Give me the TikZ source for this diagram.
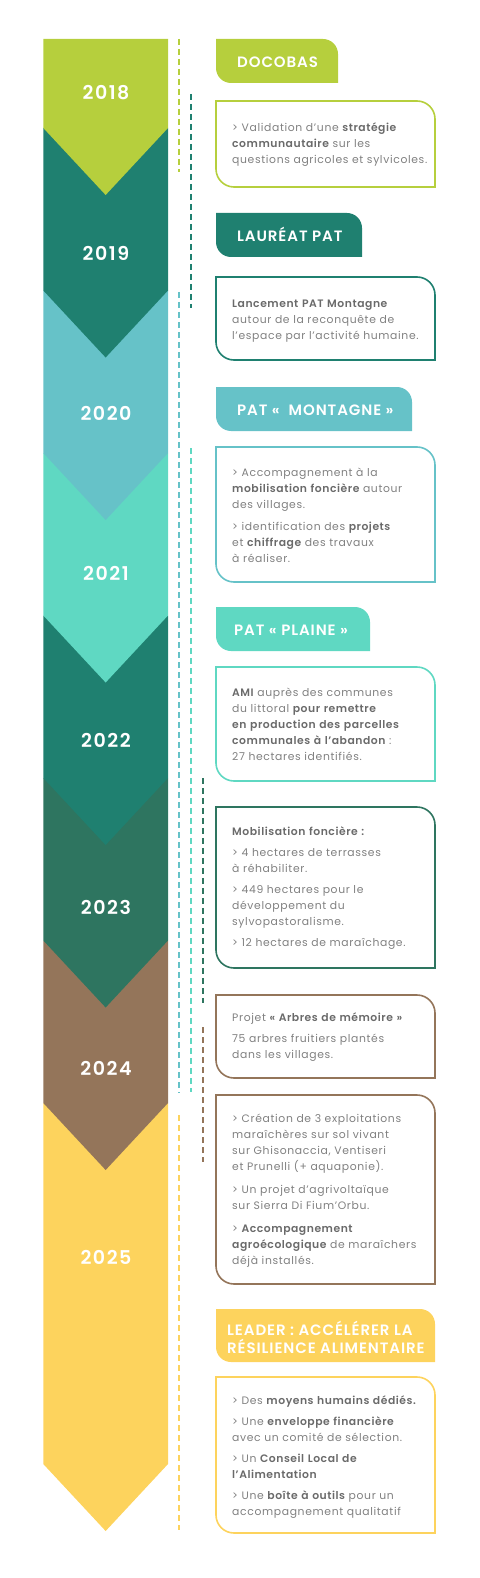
\documentclass[tikz,border=0pt]{standalone}
\usepackage{fontspec}
\setmainfont{Poppins}[BoldFont={Poppins SemiBold}]
\newfontfamily\headfont{Poppins SemiBold}[LetterSpace=6]
\newfontfamily\yearfont{Poppins SemiBold}[LetterSpace=8]
\newfontfamily\bodyfont{Poppins}[LetterSpace=6, BoldFont={Poppins SemiBold}, BoldFeatures={LetterSpace=5}]
\definecolor{lime}{HTML}{B6CF3D}
\definecolor{teal}{HTML}{1F8070}
\definecolor{skyblue}{HTML}{66C2C8}
\definecolor{mint}{HTML}{5FD8C2}
\definecolor{pine}{HTML}{2E7560}
\definecolor{brown}{HTML}{94755A}
\definecolor{sun}{HTML}{FDD35D}
\definecolor{bodygrey}{HTML}{808080}
\definecolor{boldgrey}{HTML}{6A6A6A}
\newcommand{\bt}[1]{{\bfseries\color{boldgrey}#1}}

\begin{document}
\begin{tikzpicture}[x=1pt, y=-1pt,
  year/.style={text=white, font=\yearfont\fontsize{19}{21}\selectfont, inner sep=0pt},
  tabtext/.style={text=white, font=\headfont\fontsize{15}{18}\selectfont, inner sep=0pt, anchor=base west},
  body/.style={anchor=north west, inner sep=0pt, text width=215pt, align=left, text=bodygrey,
    font=\bodyfont\fontsize{10.8}{16}\selectfont, execute at begin node=\strut},
  frame/.style={draw=#1, line width=1.6pt},
  dashline/.style={draw=#1, line width=2pt, dash pattern=on 6pt off 4pt}]
  \useasboundingbox (0,0) rectangle (479,1578);
  % bande des années, du bas vers le haut
  \foreach \s/\S/\col in {1103/1464/sun, 940.5/1103/brown, 778/940.5/pine, 615.5/778/teal,
      453/615.5/mint, 290.5/453/skyblue, 128/290.5/teal, 39/128/lime}
    \fill[\col] (43.3,\s) -- (168,\s) -- (168,\S) -- (105.65,\S+67) -- (43.3,\S) -- cycle;
  \node[year] (y2018) at (106,93) {2018};
  \node[year] (y2019) at (106,253) {2019};
  \node[year] (y2020) at (106,413) {2020};
  \node[year] (y2021) at (106,573) {2021};
  \node[year] (y2022) at (106,740) {2022};
  \node[year] (y2023) at (106,907) {2023};
  \node[year] (y2024) at (106,1068) {2024};
  \node[year] (y2025) at (106,1257) {2025};
  % pointillés
  \draw[dashline=lime] (179,39) -- (179,172);
  \draw[dashline=teal] (191,94) -- (191,308);
  \draw[dashline=skyblue] (179,292) -- (179,1093);
  \draw[dashline=mint] (191,448) -- (191,1092);
  \draw[dashline=pine] (203,778) -- (203,1003);
  \draw[dashline=brown] (203,1027) -- (203,1162);
  \draw[dashline=sun] (179,1115) -- (179,1530);
  % onglets
  \foreach \t/\b/\r/\col in {39/83/338/lime, 213/257/362/teal, 387/431/412/skyblue,
      607/651/370/mint, 1309/1362/435/sun}
    \fill[\col] (216,\t) -- ({\r-15},\t) arc[start angle=270, end angle=360, radius=15]
      -- (\r,\b) -- (231,\b) arc[start angle=90, end angle=180, radius=15] -- cycle;
  \node[tabtext] (tDocobas) at (237,67.5) {DOCOBAS};
  \node[tabtext] (tLaureat) at (237,241.5) {LAURÉAT PAT};
  \node[tabtext] (tMontagne) at (237,415.5) {PAT «~ MONTAGNE »};
  \node[tabtext] (tPlaine) at (234,635.5) {PAT « PLAINE »};
  \node[tabtext, anchor=north west, align=left, execute at begin node=\strut] (tLeader) at (227,1320.9)
    {LEADER : ACCÉLÉRER LA\\RÉSILIENCE ALIMENTAIRE};
  % cadres
  \foreach \t/\b/\col in {101/187/lime, 277/360/teal, 447/582/skyblue, 667/781/mint,
      807/968/pine, 995/1078/brown, 1095/1284/brown, 1377/1533/sun}
    \draw[frame=\col] (216,\t) -- (417,\t) arc[start angle=270, end angle=360, radius=18]
      -- (435,\b) -- (234,\b) arc[start angle=90, end angle=180, radius=18] -- cycle;
  \node[body] (b2018) at (232,120.3) {> Validation d’une \bt{stratégie}\\
    \bt{communautaire} sur les\\ questions agricoles et sylvicoles.};
  \node[body] (b2019) at (232,296.3) {\bt{Lancement PAT Montagne}\\
    autour de la reconquête de\\ l’espace par l’activité humaine.};
  \node[body] (b2020) at (232,465.3) {> Accompagnement à la\\
    \bt{mobilisation foncière} autour\\ des villages.\\[6pt]
    > identification des \bt{projets}\\ et \bt{chiffrage} des travaux\\ à réaliser.};
  \node[body] (b2021) at (232,685.3) {\bt{AMI} auprès des communes\\
    du littoral \bt{pour remettre}\\ \bt{en production des parcelles}\\
    \bt{communales à l’abandon} :\\ 27 hectares identifiés.};
  \node[body] (b2022) at (232,824.3) {\bt{Mobilisation foncière :}\\[5pt]
    > 4 hectares de terrasses\\ à réhabiliter.\\[5pt]
    > 449 hectares pour le\\ développement du\\ sylvopastoralisme.\\[5pt]
    > 12 hectares de maraîchage.};
  \node[body] (b2023) at (232,1010.3) {Projet \bt{« Arbres de mémoire »}\\[5pt]
    75 arbres fruitiers plantés\\ dans les villages.};
  \node[body] (b2024) at (232,1111.3) {> Création de 3 exploitations\\
    maraîchères sur sol vivant\\ sur Ghisonaccia, Ventiseri\\ et Prunelli (+ aquaponie).\\[7pt]
    > Un projet d’agrivoltaïque\\ sur Sierra Di Fium’Orbu.\\[7pt]
    > \bt{Accompagnement}\\ \bt{agroécologique} de maraîchers\\ déjà installés.};
  \node[body] (b2025) at (232,1393.3) {> Des \bt{moyens humains dédiés.}\\[5pt]
    > Une \bt{enveloppe financière}\\ avec un comité de sélection.\\[5pt]
    > Un \bt{Conseil Local de}\\ \bt{l’Alimentation}\\[5pt]
    > Une \bt{boîte à outils} pour un\\ accompagnement qualitatif};
\end{tikzpicture}
\end{document}
